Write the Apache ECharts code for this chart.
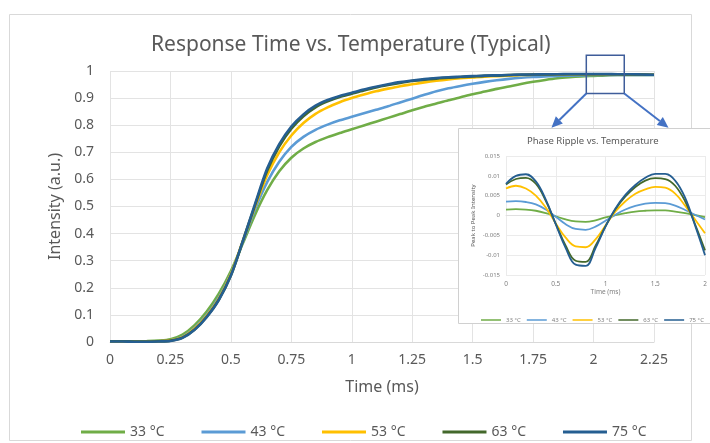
<!DOCTYPE html>
<html>
<head>
<meta charset="utf-8">
<title>Response Time vs. Temperature (Typical)</title>
<script src="https://cdn.jsdelivr.net/npm/echarts@6/dist/echarts.min.js"></script>
<style>
  html, body { margin: 0; padding: 0; background: #fff; }
  #chart { width: 710px; height: 443px; }
</style>
</head>
<body>
<div id="chart"></div>
<script>
var FONT = 'Noto Sans';
var seriesNames = ['33 °C', '43 °C', '53 °C', '63 °C', '75 °C'];
var seriesColors = ['#70AD47', '#5B9BD5', '#FFC000', '#43682B', '#255E91'];

// main chart - time (ms) against normalised intensity
var timeMain = [0, 0.05, 0.1, 0.15, 0.2, 0.25, 0.3, 0.35, 0.4, 0.45, 0.5, 0.55, 0.6, 0.65, 0.7, 0.75,
  0.8, 0.85, 0.9, 0.95, 1, 1.05, 1.1, 1.15, 1.2, 1.25, 1.3, 1.35, 1.4, 1.45, 1.5, 1.55,
  1.6, 1.65, 1.7, 1.75, 1.8, 1.85, 1.9, 1.95, 2, 2.05, 2.1, 2.15, 2.2, 2.25];
var resp33 = [0.002, 0.002, 0.002, 0.003, 0.005, 0.01, 0.027, 0.062, 0.112, 0.178, 0.262, 0.365, 0.47, 0.56, 0.63, 0.68,
  0.714, 0.738, 0.756, 0.771, 0.785, 0.799, 0.813, 0.827, 0.841, 0.855, 0.868, 0.88, 0.892, 0.903, 0.914, 0.924,
  0.934, 0.943, 0.952, 0.96, 0.967, 0.973, 0.977, 0.98, 0.982, 0.984, 0.985, 0.985, 0.985, 0.985];
var resp43 = [0.002, 0.002, 0.002, 0.002, 0.003, 0.006, 0.02, 0.053, 0.1, 0.165, 0.252, 0.37, 0.49, 0.59, 0.665, 0.72,
  0.757, 0.783, 0.802, 0.818, 0.831, 0.844, 0.857, 0.87, 0.884, 0.898, 0.912, 0.925, 0.936, 0.945, 0.953, 0.96,
  0.966, 0.971, 0.975, 0.978, 0.98, 0.982, 0.983, 0.984, 0.985, 0.985, 0.985, 0.985, 0.985, 0.985];
var resp53 = [0.002, 0.002, 0.002, 0.002, 0.003, 0.006, 0.018, 0.05, 0.097, 0.16, 0.25, 0.375, 0.5, 0.615, 0.7, 0.762,
  0.808, 0.842, 0.866, 0.885, 0.9, 0.913, 0.925, 0.935, 0.944, 0.951, 0.958, 0.964, 0.969, 0.973, 0.976, 0.979,
  0.981, 0.983, 0.985, 0.986, 0.987, 0.987, 0.988, 0.988, 0.988, 0.988, 0.988, 0.987, 0.987, 0.986];
var resp63 = [0.003, 0.003, 0.002, 0.002, 0.003, 0.005, 0.016, 0.046, 0.093, 0.156, 0.245, 0.373, 0.505, 0.632, 0.722, 0.787,
  0.833, 0.866, 0.888, 0.904, 0.916, 0.928, 0.939, 0.948, 0.956, 0.963, 0.968, 0.972, 0.975, 0.978, 0.98, 0.982,
  0.983, 0.985, 0.986, 0.987, 0.987, 0.988, 0.988, 0.988, 0.988, 0.988, 0.988, 0.987, 0.987, 0.986];
var resp75 = [0.002, 0.002, 0.001, 0.001, 0.002, 0.004, 0.015, 0.045, 0.092, 0.155, 0.245, 0.375, 0.51, 0.64, 0.73, 0.795,
  0.84, 0.872, 0.893, 0.908, 0.92, 0.932, 0.942, 0.951, 0.959, 0.965, 0.97, 0.974, 0.977, 0.979, 0.981, 0.983,
  0.984, 0.985, 0.987, 0.987, 0.988, 0.988, 0.989, 0.989, 0.989, 0.989, 0.988, 0.988, 0.987, 0.986];
var respAll = [resp33, resp43, resp53, resp63, resp75];

// inset - phase ripple (peak to peak intensity)
var timeRipple = [0, 0.1, 0.2, 0.3, 0.4, 0.5, 0.6, 0.7, 0.8, 0.9, 1, 1.1, 1.2, 1.3, 1.4, 1.5, 1.6, 1.7, 1.8, 1.9, 2];
var ripple33 = [0.0015, 0.0016, 0.0015, 0.0012, 0.0006, -0.0002, -0.001, -0.0015, -0.0016, -0.0012, -0.0005,
  0.0001, 0.0006, 0.001, 0.0012, 0.0013, 0.0013, 0.001, 0.0006, 0.0001, -0.0004];
var ripple43 = [0.0035, 0.0036, 0.0034, 0.0028, 0.0015, -0.0003, -0.0022, -0.0034, -0.0036, -0.0028, -0.0013,
  0.0002, 0.0015, 0.0024, 0.003, 0.0032, 0.0031, 0.0025, 0.0014, 0.0002, -0.001];
var ripple53 = [0.0068, 0.0075, 0.0068, 0.005, 0.002, -0.002, -0.0056, -0.0078, -0.008, -0.006, -0.0025,
  0.001, 0.0036, 0.0055, 0.0066, 0.0072, 0.007, 0.0055, 0.0025, -0.001, -0.0045];
var ripple63 = [0.0078, 0.0092, 0.0095, 0.008, 0.0037, -0.0021, -0.0076, -0.0114, -0.0117, -0.0076, -0.0027,
  0.0016, 0.0048, 0.0072, 0.0088, 0.0094, 0.0092, 0.0075, 0.0036, -0.0022, -0.0088];
var ripple75 = [0.008, 0.01, 0.0104, 0.0086, 0.004, -0.0022, -0.0082, -0.0124, -0.0127, -0.0082, -0.0028,
  0.0018, 0.0052, 0.0077, 0.0095, 0.0105, 0.0105, 0.0088, 0.0045, -0.0025, -0.01];
var rippleAll = [ripple33, ripple43, ripple53, ripple63, ripple75];

// zoomed window drawn on the main chart and the arrow tips (data units of the main chart)
var zoomBox = { x0: 1.97, x1: 2.127, y0: 0.917, y1: 1.058 };
var arrowTips = [[1.826, 0.791], [2.31, 0.791]];

var chart = echarts.init(document.getElementById('chart'));

function pairs(xs, ys) {
  return xs.map(function (x, i) { return [x, ys[i]]; });
}

var series = [];
seriesNames.forEach(function (name, i) {
  series.push({
    name: name,
    type: 'line',
    xAxisIndex: 0,
    yAxisIndex: 0,
    data: pairs(timeMain, respAll[i]),
    showSymbol: false,
    symbol: 'none',
    smooth: 0.3,
    color: seriesColors[i],
    lineStyle: { width: 2.6, color: seriesColors[i] },
    z: 2
  });
});
seriesNames.forEach(function (name, i) {
  series.push({
    name: name,
    type: 'line',
    xAxisIndex: 1,
    yAxisIndex: 1,
    data: pairs(timeRipple, rippleAll[i]),
    showSymbol: false,
    symbol: 'none',
    smooth: 0.4,
    color: seriesColors[i],
    lineStyle: { width: 1.8, color: seriesColors[i] },
    z: 9
  });
});

var option = {
  animation: false,
  textStyle: { fontFamily: FONT },
  title: [
    {
      text: 'Response Time vs. Temperature (Typical)',
      left: 146,
      top: 30,
      textStyle: { fontFamily: FONT, fontSize: 21, fontWeight: 'normal', color: '#595959' }
    },
    {
      text: 'Phase Ripple vs. Temperature',
      left: 522,
      top: 131,
      z: 8,
      textStyle: { fontFamily: FONT, fontSize: 9.5, fontWeight: 'normal', color: '#595959' }
    }
  ],
  legend: [
    {
      data: seriesNames,
      left: 76,
      top: 420,
      icon: 'rect',
      itemWidth: 44,
      itemHeight: 3,
      itemGap: 37,
      textStyle: { fontFamily: FONT, fontSize: 14, color: '#595959' }
    },
    {
      data: seriesNames,
      left: 476,
      top: 312,
      width: 320,
      icon: 'rect',
      itemWidth: 20,
      itemHeight: 1.5,
      itemGap: 6,
      z: 8,
      textStyle: { fontFamily: FONT, fontSize: 6, color: '#7f7f7f' }
    }
  ],
  grid: [
    { left: 110, right: 56, top: 71, bottom: 101 },
    { left: 506, right: 5, top: 156, bottom: 168, z: 7 }
  ],
  xAxis: [
    {
      type: 'value',
      gridIndex: 0,
      min: 0,
      max: 2.25,
      interval: 0.25,
      name: 'Time (ms)',
      nameLocation: 'middle',
      nameGap: 37,
      nameTextStyle: { fontFamily: FONT, fontSize: 16, color: '#595959' },
      axisLine: { lineStyle: { color: '#d9d9d9' } },
      axisTick: { show: false },
      axisLabel: { fontFamily: FONT, fontSize: 14, color: '#595959', margin: 11 },
      splitLine: { lineStyle: { color: '#e3e3e3' } }
    },
    {
      type: 'value',
      gridIndex: 1,
      min: 0,
      max: 2,
      interval: 0.5,
      z: 7,
      name: 'Time (ms)',
      nameLocation: 'middle',
      nameGap: 13,
      nameTextStyle: { fontFamily: FONT, fontSize: 6.5, color: '#7f7f7f' },
      axisLine: { lineStyle: { color: '#e0e0e0' } },
      axisTick: { show: false },
      axisLabel: { fontFamily: FONT, fontSize: 6.5, color: '#7f7f7f', margin: 6 },
      splitLine: { lineStyle: { color: '#ebebeb' } }
    }
  ],
  yAxis: [
    {
      type: 'value',
      gridIndex: 0,
      min: 0,
      max: 1,
      interval: 0.1,
      name: 'Intensity (a.u.)',
      nameLocation: 'middle',
      nameGap: 47,
      nameTextStyle: { fontFamily: FONT, fontSize: 16, color: '#595959' },
      axisLine: { show: false },
      axisTick: { show: false },
      axisLabel: { fontFamily: FONT, fontSize: 14, color: '#595959', margin: 16 },
      splitLine: { lineStyle: { color: '#e3e3e3' } }
    },
    {
      type: 'value',
      gridIndex: 1,
      min: -0.015,
      max: 0.015,
      interval: 0.005,
      z: 7,
      name: 'Peak to Peak Intensity',
      nameLocation: 'middle',
      nameGap: 30,
      nameTextStyle: { fontFamily: FONT, fontSize: 6, color: '#595959' },
      axisLine: { show: false },
      axisTick: { show: false },
      axisLabel: { fontFamily: FONT, fontSize: 6, color: '#7f7f7f', margin: 6 },
      splitLine: { lineStyle: { color: '#ebebeb' } }
    }
  ],
  series: series
};

chart.setOption(option);

// annotations: outer frame, inset panel, zoom window and arrows
function px(x, y) {
  return chart.convertToPixel({ gridIndex: 0 }, [x, y]);
}

function arrow(from, to, color) {
  var dx = to[0] - from[0];
  var dy = to[1] - from[1];
  var len = Math.sqrt(dx * dx + dy * dy);
  var ux = dx / len, uy = dy / len;
  var headLen = 11, headHalf = 5;
  var bx = to[0] - ux * headLen, by = to[1] - uy * headLen;
  return [
    {
      type: 'line',
      silent: true,
      z: 10,
      shape: { x1: from[0], y1: from[1], x2: bx, y2: by },
      style: { stroke: color, lineWidth: 2 }
    },
    {
      type: 'polygon',
      silent: true,
      z: 10,
      shape: { points: [to, [bx - uy * headHalf, by + ux * headHalf], [bx + uy * headHalf, by - ux * headHalf]] },
      style: { fill: color }
    }
  ];
}

var boxTL = px(zoomBox.x0, zoomBox.y1);
var boxBR = px(zoomBox.x1, zoomBox.y0);
var graphics = [
  {
    type: 'rect',
    silent: true,
    z: -1,
    shape: { x: 9.5, y: 14.5, width: 682, height: 426 },
    style: { fill: 'none', stroke: '#d9d9d9', lineWidth: 1 }
  },
  {
    type: 'rect',
    silent: true,
    z: 5,
    shape: { x: 458.5, y: 128.5, width: 260, height: 195 },
    style: { fill: '#ffffff', stroke: '#d0d0d0', lineWidth: 1 }
  },
  {
    type: 'rect',
    silent: true,
    z: 10,
    shape: { x: boxTL[0], y: boxTL[1], width: boxBR[0] - boxTL[0], height: boxBR[1] - boxTL[1] },
    style: { fill: 'none', stroke: '#3F5D9A', lineWidth: 1.5 }
  }
];
graphics = graphics
  .concat(arrow([boxTL[0], boxBR[1]], px(arrowTips[0][0], arrowTips[0][1]), '#4472C4'))
  .concat(arrow([boxBR[0], boxBR[1]], px(arrowTips[1][0], arrowTips[1][1]), '#4472C4'));

chart.setOption({ graphic: graphics });
</script>
</body>
</html>
